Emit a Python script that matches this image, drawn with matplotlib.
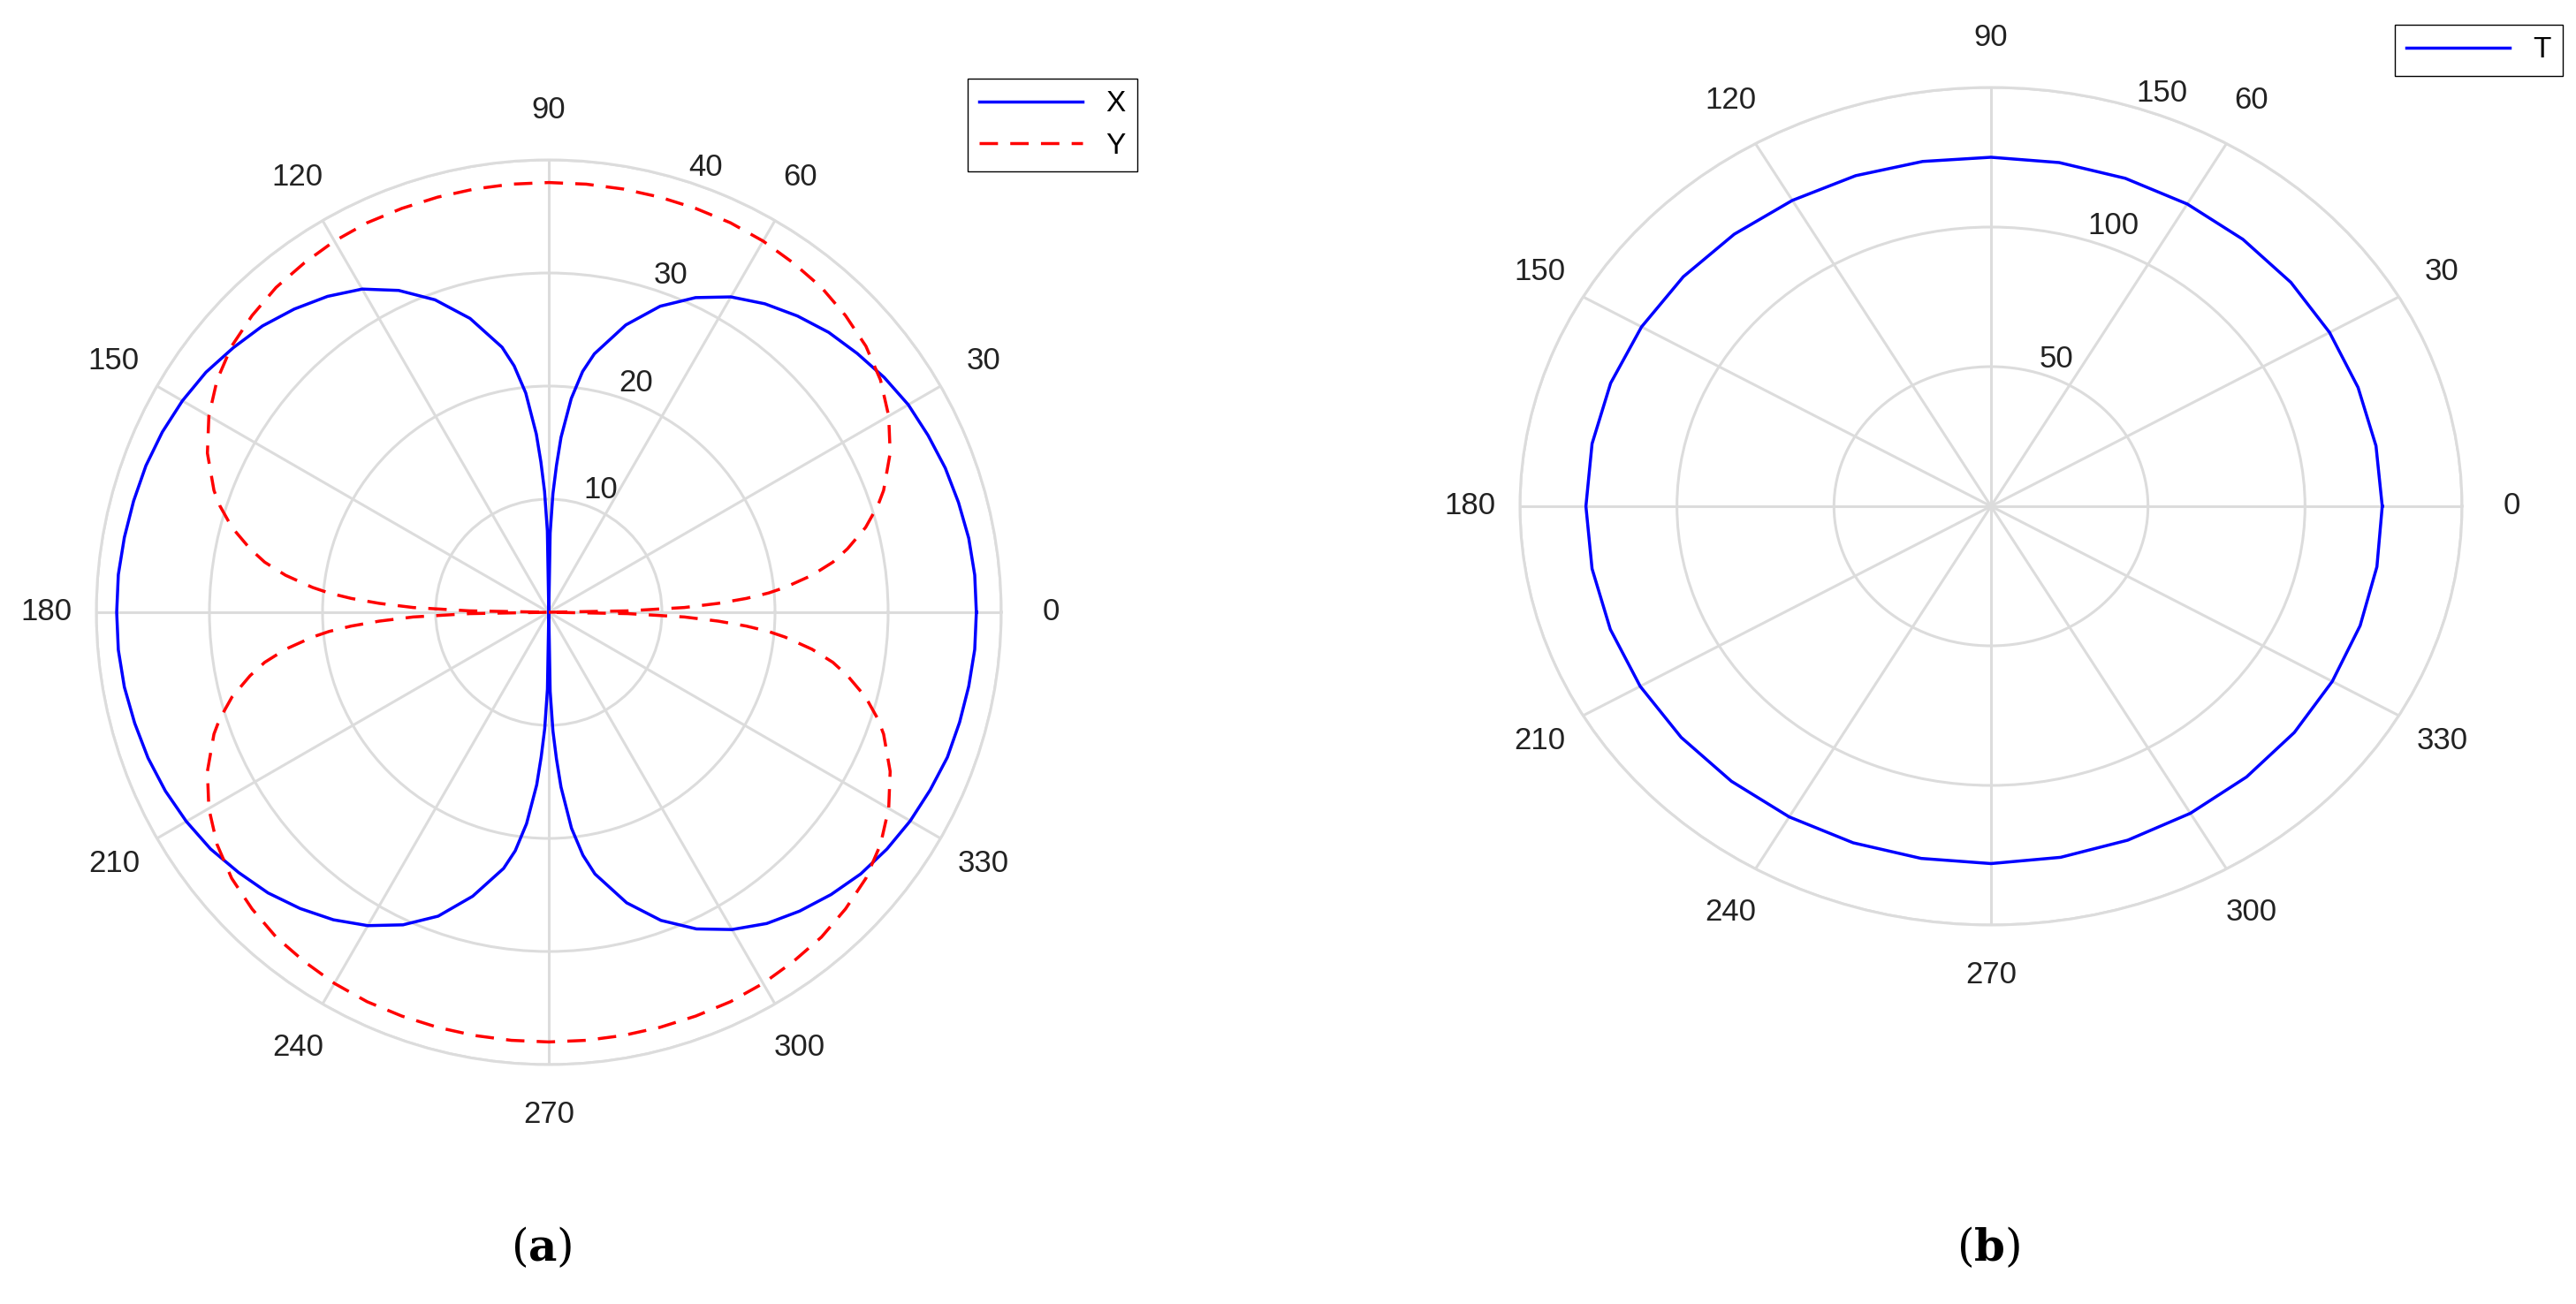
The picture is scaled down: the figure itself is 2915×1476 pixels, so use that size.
import numpy as np
import matplotlib.pyplot as plt

# X pattern, one list per quadrant (degrees / value)
x_deg_q1 = [0, 5, 10, 15, 20, 25, 30, 35, 40, 45, 50, 55, 60, 65, 70, 75, 80, 82, 84, 86, 87, 88, 89, 90]
x_val_q1 = [37.8, 37.8, 37.7, 37.5, 37.3, 37.0, 36.7, 36.2, 35.6, 35.0, 34.2, 33.3, 32.2, 30.7,
            28.8, 26.3, 23.2, 21.5, 19.0, 15.5, 13.0, 10.5, 7.0, 0]
x_deg_q2 = [91, 92, 93, 94, 96, 98, 100, 105, 110, 115, 120, 125, 130, 135, 140, 145, 150, 155,
            160, 165, 170, 175, 180]
x_val_q2 = [7.2, 10.7, 13.3, 15.8, 19.5, 22.0, 23.8, 26.9, 29.4, 31.4, 33.0, 34.1, 35.0, 35.8,
            36.4, 37.0, 37.4, 37.7, 37.9, 38.0, 38.1, 38.2, 38.2]
x_deg_q3 = [185, 190, 195, 200, 205, 210, 215, 220, 225, 230, 235, 240, 245, 250, 255, 260,
            262, 264, 266, 267, 268, 269, 270]
x_val_q3 = [38.2, 38.1, 37.9, 37.7, 37.4, 37.0, 36.5, 35.8, 35.1, 34.2, 33.2, 32.0, 30.5, 28.6,
            26.0, 23.0, 21.3, 18.8, 15.3, 12.8, 10.3, 6.8, 0]
x_deg_q4 = [271, 272, 273, 274, 276, 278, 280, 285, 290, 295, 300, 305, 310, 315, 320, 325,
            330, 335, 340, 345, 350, 355, 360]
x_val_q4 = [7.0, 10.5, 13.0, 15.5, 19.2, 21.7, 23.5, 26.6, 29.0, 30.9, 32.4, 33.6, 34.5, 35.3,
            36.0, 36.5, 36.9, 37.2, 37.5, 37.6, 37.7, 37.8, 37.8]

# Y pattern
y_deg_q1 = [0, 1, 2, 3, 4, 5, 6, 8, 10, 12, 15, 18, 20, 25, 30, 35, 40, 45, 50, 55, 60, 65,
            70, 75, 80, 85, 90]
y_val_q1 = [0, 7, 12, 15, 17.5, 19.5, 21, 23.5, 25.5, 27, 29, 30.6, 31.5, 33.3, 34.7, 35.8,
            36.6, 37.1, 37.5, 37.7, 37.9, 38, 38, 38, 38, 38, 38]
y_deg_q2 = [95, 100, 105, 110, 115, 120, 125, 130, 135, 140, 145, 150, 155, 160, 162, 165,
            168, 170, 172, 174, 175, 176, 177, 178, 179, 180]
y_val_q2 = [38, 38, 38, 38, 38, 37.9, 37.7, 37.5, 37.1, 36.6, 35.8, 34.7, 33.3, 31.5, 30.6,
            29, 27, 25.5, 23.5, 21, 19.5, 17.5, 15, 12, 7, 0]
y_deg_q3 = [181, 182, 183, 184, 185, 186, 188, 190, 192, 195, 198, 200, 205, 210, 215, 220,
            225, 230, 235, 240, 245, 250, 255, 260, 265, 270]
y_val_q3 = [7, 12, 15, 17.5, 19.5, 21, 23.5, 25.5, 27, 29, 30.6, 31.5, 33.3, 34.7, 35.8,
            36.6, 37.1, 37.5, 37.7, 37.9, 38, 38, 38, 38, 38, 38]
y_deg_q4 = [275, 280, 285, 290, 295, 300, 305, 310, 315, 320, 325, 330, 335, 340, 342, 345,
            348, 350, 352, 354, 355, 356, 357, 358, 359, 360]
y_val_q4 = [38, 38, 38, 38, 38, 37.9, 37.7, 37.5, 37.1, 36.6, 35.8, 34.7, 33.3, 31.5, 30.6,
            29, 27, 25.5, 23.5, 21, 19.5, 17.5, 15, 12, 7, 0]

# T pattern
t_deg = list(range(0, 361, 10))
t_val = [124.6, 124.5, 124.4, 124.5, 124.7, 124.8, 125, 125, 125, 125, 125.4, 126, 126.5,
         127.2, 127.9, 128.5, 128.9, 129, 129, 129, 129, 129, 128.8, 128.6, 128.5, 128.3,
         128.1, 128, 127.7, 127.3, 127, 126.6, 126.1, 125.5, 125.1, 124.8, 124.6]

x_deg = x_deg_q1 + x_deg_q2 + x_deg_q3 + x_deg_q4
x_val = x_val_q1 + x_val_q2 + x_val_q3 + x_val_q4
y_deg = y_deg_q1 + y_deg_q2 + y_deg_q3 + y_deg_q4
y_val = y_val_q1 + y_val_q2 + y_val_q3 + y_val_q4

theta_ticks = list(range(0, 360, 30))

plt.rcParams['font.family'] = ['Liberation Sans', 'DejaVu Sans']
grid_c = '#dcdcdc'

fig = plt.figure(figsize=(29.15, 14.76), dpi=100)


def style(ax, rmax, rticks, pad):
    ax.set_ylim(0, rmax)
    ax.set_yticks(rticks)
    ax.set_yticklabels([str(t) for t in rticks])
    ax.set_rlabel_position(72)
    ax.set_thetagrids(theta_ticks, labels=[str(t) for t in theta_ticks])
    ax.grid(True, color=grid_c, linewidth=2.2)
    ax.spines['polar'].set_color(grid_c)
    ax.spines['polar'].set_linewidth(2.2)
    ax.tick_params(axis='x', pad=pad, labelsize=25, colors='#222222')
    ax.tick_params(axis='y', labelsize=25, colors='#222222')
    ax.set_axisbelow(True)


ax1 = fig.add_axes([109 / 2915, 271 / 1476, 1024 / 2915, 1024 / 1476], projection='polar')
ax1.plot(np.deg2rad(x_deg), x_val, color='#0000ff', linewidth=2.5, label='X')
ax1.plot(np.deg2rad(y_deg), y_val, color='#ff0000', linewidth=2.5, linestyle=(0, (6, 4)), label='Y')
style(ax1, 40, [10, 20, 30, 40], 30)
ax1.legend(loc='upper right', bbox_to_anchor=(1287 / 2915, 1 - 89 / 1476),
           bbox_transform=fig.transFigure, fancybox=False, edgecolor='black',
           fontsize=24, handlelength=3.5, borderaxespad=0, framealpha=1)

ax2 = fig.add_axes([1720 / 2915, 429 / 1476, 1066 / 2915, 948 / 1476], projection='polar')
ax2.set_aspect('auto')
ax2.plot(np.deg2rad(t_deg), t_val, color='#0000ff', linewidth=2.5, label='T')
style(ax2, 150, [50, 100, 150], 30)
ax2.legend(loc='upper right', bbox_to_anchor=(2900 / 2915, 1 - 28 / 1476),
           bbox_transform=fig.transFigure, fancybox=False, edgecolor='black',
           fontsize=24, handlelength=3.5, borderaxespad=0, framealpha=1)

fig.text(613 / 2915, 1 - 1413 / 1476, r'($\mathbf{a}$)', fontsize=36, family='DejaVu Serif',
         ha='center', va='center', math_fontfamily='dejavuserif')
fig.text(2250 / 2915, 1 - 1413 / 1476, r'($\mathbf{b}$)', fontsize=36, family='DejaVu Serif',
         ha='center', va='center', math_fontfamily='dejavuserif')

fig.savefig('out.png', dpi=100)
